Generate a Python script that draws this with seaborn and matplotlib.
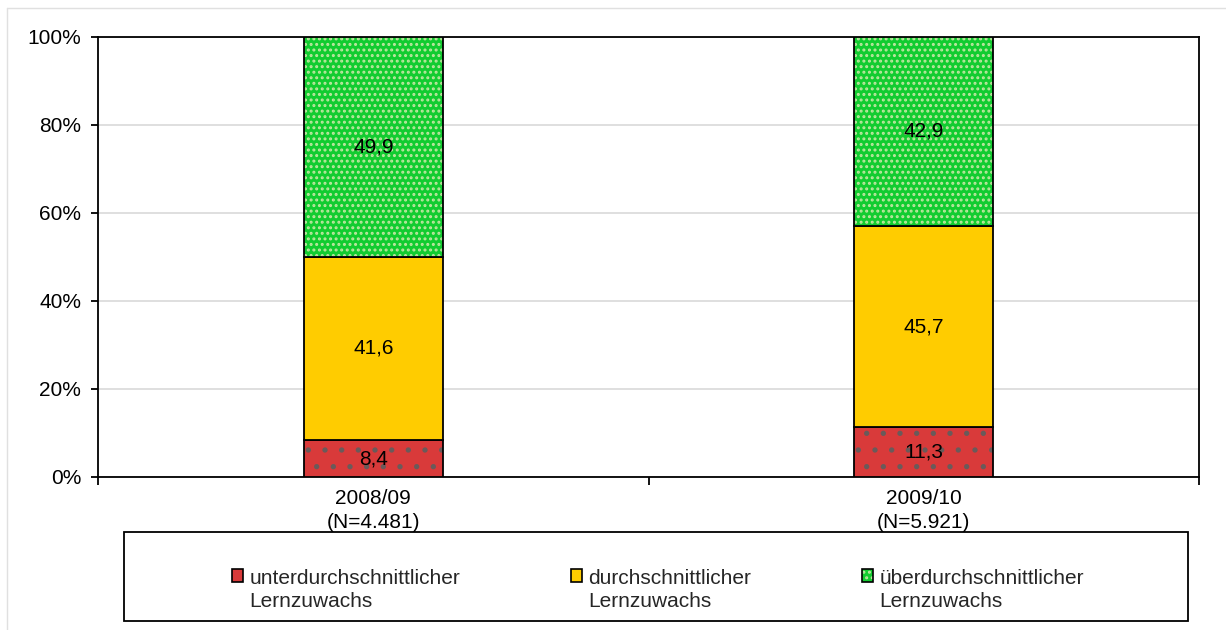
import matplotlib
matplotlib.use("Agg")
import matplotlib.pyplot as plt
from matplotlib.patches import Rectangle
from matplotlib.legend_handler import HandlerPatch
from matplotlib.lines import Line2D
from matplotlib.colors import to_rgba
import numpy as np
import pandas as pd
import seaborn as sns

# Data
categories = ["2008/09\n(N=4.481)", "2009/10\n(N=5.921)"]
series_names = ["unterdurchschnittlicher\nLernzuwachs",
                "durchschnittlicher\nLernzuwachs",
                "überdurchschnittlicher\nLernzuwachs"]
unter = [8.4, 11.3]
durch = [41.6, 45.7]
ueber = [49.9, 42.9]
y_ticklabels = ["0%", "20%", "40%", "60%", "80%", "100%"]

colors = ["#d93a3a", "#ffcc00", "#12cc30"]
hatches = [".", None, "..."]
hatch_colors = ["#6a5a5a", None, "#bfe6a0"]

sns.set_theme(style="white")
plt.rcParams["font.family"] = ["Liberation Sans", "DejaVu Sans"]
plt.rcParams["hatch.linewidth"] = 1.4

FS = 15

fig = plt.figure(figsize=(12.26, 6.30), dpi=100)
ax = fig.add_axes([98 / 1226, 1 - 477 / 630, 1101 / 1226, 440 / 630])

raw = np.array([unter, durch, ueber])
shares = raw / raw.sum(axis=0) * 100  # stacked to 100%
bottoms = np.vstack([np.zeros(2), np.cumsum(shares, axis=0)[:-1]])

xpos = np.arange(len(categories))
for i, name in enumerate(series_names):
    df = pd.DataFrame({"x": xpos, "share": shares[i]})
    sns.barplot(data=df, x="x", y="share", order=xpos, bottom=bottoms[i],
                color=colors[i], saturation=1, width=0.253,
                edgecolor="black", linewidth=1.3, hatch=hatches[i],
                ax=ax, zorder=3, errorbar=None, native_scale=True)
    n_prev = i * len(categories)
    for p in ax.patches[n_prev:n_prev + len(categories)]:
        p.set_label("_nolegend_")
        if hatch_colors[i] is not None:
            p._hatch_color = to_rgba(hatch_colors[i])
    for j in range(len(categories)):
        ax.text(xpos[j], bottoms[i][j] + shares[i][j] / 2,
                f"{raw[i][j]:.1f}".replace(".", ","),
                ha="center", va="center", fontsize=FS, color="black", zorder=5)

ax.set_xlim(-0.5, 1.5)
ax.set_ylim(0, 100)
ax.set_yticks(np.arange(0, 101, 20), y_ticklabels)
ax.set_xticks(xpos, categories)
ax.set_xticks([-0.5, 0.5, 1.5], minor=True)
ax.tick_params(axis="x", which="major", length=0, pad=9, labelsize=FS, colors="black")
ax.tick_params(axis="x", which="minor", length=6, width=1.3, direction="out",
               bottom=True, color="black")
ax.tick_params(axis="y", length=5, width=1.3, direction="out", left=True,
               pad=7, labelsize=FS, colors="black")
for t in ax.get_xticklabels():
    t.set_linespacing(1.3)
ax.set_xlabel("")
ax.set_ylabel("")
ax.yaxis.grid(True, color="#d9d9d9", linewidth=1.2, zorder=0)
ax.set_axisbelow(True)
for s in ax.spines.values():
    s.set_color("black")
    s.set_linewidth(1.3)
    s.set_visible(True)


# Legend: square key aligned with the first line of each two-line label
def top_square(legend, orig_handle, xdescent, ydescent, width, height, fontsize):
    return Rectangle((-xdescent, -ydescent + 0.7 * fontsize), width, height)


handles = [Rectangle((0, 0), 1, 1, facecolor=colors[i], edgecolor="black",
                     linewidth=1.2, hatch=hatches[i]) for i in range(3)]
handles[0]._hatch_color = to_rgba(hatch_colors[0])
handles[2]._hatch_color = to_rgba(hatch_colors[2])
leg = fig.legend(handles, series_names, loc="center",
                 bbox_to_anchor=(658 / 1226, 1 - 590 / 630), ncol=3,
                 frameon=False, fontsize=FS, handlelength=0.55, handleheight=0.55,
                 handletextpad=0.3, columnspacing=5.3,
                 handler_map={Rectangle: HandlerPatch(patch_func=top_square)})
for t in leg.get_texts():
    t.set_linespacing(1.25)

# Legend frame
fig.patches.append(Rectangle((124 / 1226, 1 - 621 / 630), 1064 / 1226, 89 / 630,
                             transform=fig.transFigure, fill=False,
                             edgecolor="black", linewidth=1.3))
# Thin outer chart border (top and left)
fig.lines.append(Line2D([7 / 1226, 1], [1 - 8 / 630, 1 - 8 / 630],
                        transform=fig.transFigure, color="#e0e0e0", linewidth=1))
fig.lines.append(Line2D([7 / 1226, 7 / 1226], [0, 1 - 8 / 630],
                        transform=fig.transFigure, color="#e0e0e0", linewidth=1))

fig.savefig("out.png", dpi=100, facecolor="white")
